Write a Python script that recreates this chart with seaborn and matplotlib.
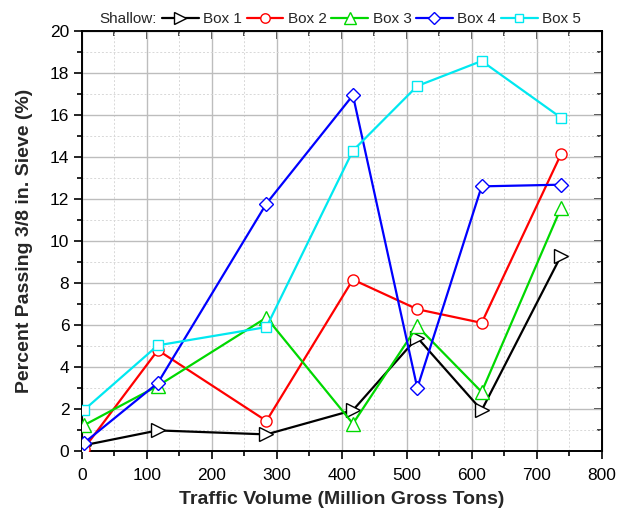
import numpy as np
import pandas as pd
import matplotlib
matplotlib.use("Agg")
import matplotlib.pyplot as plt
from matplotlib.ticker import MultipleLocator
import seaborn as sns

# Data
traffic = [3, 117, 284, 417, 516, 615, 737]
box1 = [0.27, 0.98, 0.79, 1.94, 5.4, 1.94, 9.29]
box2 = [0.1, 4.8, 1.43, 8.16, 6.75, 6.1, 14.13]
box3 = [1.22, 3.1, 6.35, 1.3, 5.94, 2.81, 11.57]
box4 = [0.37, 3.24, 11.78, 16.94, 3.0, 12.6, 12.68]
box5 = [1.94, 5.03, 5.9, 14.3, 17.38, 18.57, 15.87]

series = {"Box 1": box1, "Box 2": box2, "Box 3": box3, "Box 4": box4, "Box 5": box5}
colors = {"Box 1": "#000000", "Box 2": "#ff0000", "Box 3": "#00d800",
          "Box 4": "#0000ff", "Box 5": "#00e8f0"}
markers = {"Box 1": ">", "Box 2": "o", "Box 3": "^", "Box 4": "D", "Box 5": "s"}
msizes = {"Box 1": 9.5, "Box 2": 8, "Box 3": 9.5, "Box 4": 7.5, "Box 5": 7.5}

sns.set_style("ticks")
plt.rcParams['font.family'] = ['Liberation Sans', 'DejaVu Sans']

fig = plt.figure(figsize=(6.29, 5.16), dpi=100)
ax = fig.add_axes([0.130, 0.126, 0.827, 0.814])

for name, vals in series.items():
    c = colors[name]
    sns.lineplot(x=traffic, y=vals, ax=ax, color=c, marker=markers[name],
                 markersize=msizes[name], markerfacecolor="white",
                 markeredgecolor=c, markeredgewidth=1.0, linewidth=1.6,
                 label=name, zorder=3)

ax.set_xlim(0, 800)
ax.set_ylim(0, 20)
ax.xaxis.set_major_locator(MultipleLocator(100))
ax.xaxis.set_minor_locator(MultipleLocator(50))
ax.yaxis.set_major_locator(MultipleLocator(2))
ax.yaxis.set_minor_locator(MultipleLocator(1))

ax.grid(which="major", color="#bdbdbd", linewidth=1.0, zorder=0)
ax.grid(which="minor", color="#d8d8d8", linewidth=0.7, linestyle=(0, (2, 2)), zorder=0)
ax.set_axisbelow(True)

ax.tick_params(which="both", direction="out", labelsize=12.5, width=1.2, colors="black")
ax.tick_params(which="major", length=6)
ax.tick_params(which="minor", length=3.5)
ax.tick_params(axis="x", which="major", pad=6)
ax.tick_params(axis="y", which="major", pad=3)

# mirrored ticks pointing inward on top and right
top = ax.secondary_xaxis("top")
top.xaxis.set_major_locator(MultipleLocator(100))
top.xaxis.set_minor_locator(MultipleLocator(50))
top.tick_params(which="both", direction="in", labeltop=False, width=1.2)
top.tick_params(which="major", length=6)
top.tick_params(which="minor", length=3.5)
right = ax.secondary_yaxis("right")
right.yaxis.set_major_locator(MultipleLocator(2))
right.yaxis.set_minor_locator(MultipleLocator(1))
right.tick_params(which="both", direction="in", labelright=False, width=1.2)
right.tick_params(which="major", length=6)
right.tick_params(which="minor", length=3.5)

for sp in ax.spines.values():
    sp.set_visible(True)
    sp.set_linewidth(1.4)
    sp.set_color("black")

ax.set_xlabel("Traffic Volume (Million Gross Tons)", fontsize=14, fontweight="bold", labelpad=6)
ax.set_ylabel("Percent Passing 3/8 in. Sieve (%)", fontsize=14, fontweight="bold", labelpad=12)

fig.text(99 / 629, 1 - 19 / 516, "Shallow:", fontsize=11, ha="left", va="center")
ax.legend(loc="center left", bbox_to_anchor=(162 / 629, 1 - 19 / 516),
          bbox_transform=fig.transFigure, ncol=5, frameon=False, fontsize=11,
          handlelength=2.4, handletextpad=0.3, columnspacing=0.3, borderpad=0,
          borderaxespad=0, markerscale=0.85)

fig.savefig("out.png", dpi=100)
